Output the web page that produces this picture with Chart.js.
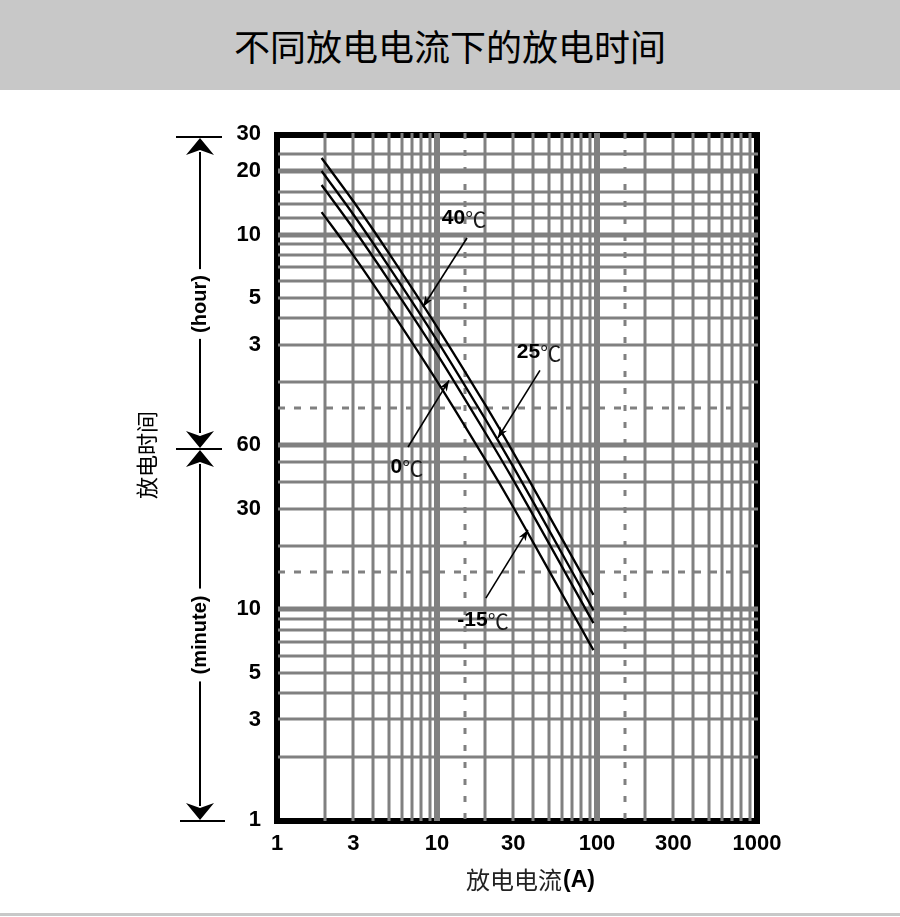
<!DOCTYPE html>
<html><head><meta charset="utf-8">
<script src="https://cdn.jsdelivr.net/npm/chart.js@4.4.1/dist/chart.umd.min.js"></script>
<style>
html,body{margin:0;padding:0;background:#fff;}
#wrap{position:relative;width:900px;height:917px;overflow:hidden;background:#fff;}
#banner{position:absolute;left:0;top:0;width:900px;height:90px;background:#c8c8c8;color:#000;font-family:"Noto Sans CJK SC";font-weight:400;font-size:36px;line-height:90px;text-align:center;letter-spacing:0px;}
#foot{position:absolute;left:0;top:913px;width:900px;height:3px;background:#c8c8c8;}
canvas{position:absolute;left:0;top:0;}
</style></head>
<body><div id="wrap"><canvas id="c" width="900" height="917"></canvas><div id="banner">不同放电电流下的放电时间</div><div id="foot"></div></div>
<script>
// discharge current (A)
const currents = [1.9, 3, 5, 10, 20, 30, 50, 95];
// discharge time (minutes) per temperature
const t40  = [1384, 863, 490, 219, 93.5, 55.4, 27.9, 11.7];
const t25  = [1201, 747, 423, 189, 80, 47.4, 23.8, 9.9];
const t0   = [1031, 641, 364, 163, 69, 41, 20.6, 8.6];
const tm15 = [767, 478, 271, 121, 51.4, 30.5, 15.3, 6.4];
const seriesNames = ['40', '25', '0', '-15'];

const xTickValues = [1, 3, 10, 30, 100, 300, 1000];
const xTickLabels = ['1', '3', '10', '30', '100', '300', '1000'];
const yTickValues = [1, 3, 5, 10, 30, 60, 180, 300, 600, 1200, 1800];
const yTickLabels = ['1', '3', '5', '10', '30', '60', '3', '5', '10', '20', '30'];

const xGridMinor = [2,3,4,5,6,7,8,9,20,30,40,50,60,70,80,90,200,300,400,500,600,700,800,900];
const xGridMajor = [10, 100];
const xGridDashed = [15, 150];
const yGridMinor = [2,3,4,5,6,7,8,9,20,30,40,50,120,180,240,300,360,420,480,540,720,840,960,1440];
const yGridMajor = [10, 60, 600, 1200];
const yGridDashed = [15, 90];

// callouts in data units: label point, leader tail, leader tip
const callouts = [
  {lx: 14.75, ly: 719, fx: 15.4, fy: 578, tx: 8.17, ty: 272},
  {lx: 43.4,  ly: 166, fx: 44.0, fy: 136, tx: 24.0, ty: 65},
  {lx: 6.49,  ly: 47.3, fx: 6.59, fy: 58.9, tx: 11.9, ty: 122},
  {lx: 19.4,  ly: 8.9, fx: 20.2, fy: 11.3, tx: 37.0, ty: 23.8}
];

const GRAY = '#808080';

function arrowHead(ctx, tx, ty, fx, fy, len, hw) {
  const ang = Math.atan2(ty - fy, tx - fx);
  ctx.save();
  ctx.translate(tx, ty); ctx.rotate(ang);
  ctx.beginPath();
  ctx.moveTo(0, 0); ctx.lineTo(-len, -hw); ctx.lineTo(-len * 0.7, 0); ctx.lineTo(-len, hw);
  ctx.closePath(); ctx.fill();
  ctx.restore();
}

const gridPlugin = {
  id: 'gridPlugin',
  beforeDatasetsDraw(chart) {
    const {ctx, chartArea: a, scales: {x, y}} = chart;
    ctx.save();
    ctx.strokeStyle = '#000'; ctx.lineWidth = 6; ctx.setLineDash([]);
    ctx.strokeRect(a.left, a.top + 1, a.right - a.left, a.bottom - a.top);
    ctx.strokeStyle = GRAY;
    const v = (val, w, dash) => {
      const px = Math.round(x.getPixelForValue(val));
      ctx.lineWidth = w; ctx.setLineDash(dash || []);
      ctx.beginPath(); ctx.moveTo(px, a.top - 1); ctx.lineTo(px, a.bottom + 1); ctx.stroke();
    };
    const h = (val, w, dash) => {
      const py = Math.round(y.getPixelForValue(val));
      ctx.lineWidth = w; ctx.setLineDash(dash || []);
      ctx.beginPath(); ctx.moveTo(a.left + 1, py); ctx.lineTo(a.right + 1, py); ctx.stroke();
    };
    yGridDashed.forEach(val => h(val, 3, [7, 9]));
    xGridDashed.forEach(val => v(val, 3, [6, 11]));
    yGridMinor.forEach(val => h(val, 3));
    yGridMajor.forEach(val => h(val, 5));
    xGridMinor.forEach(val => v(val, 3));
    xGridMajor.forEach(val => v(val, 6));
    ctx.restore();
  },
  afterDatasetsDraw(chart) {
    const {ctx, scales: {x, y}} = chart;
    ctx.save();
    ctx.strokeStyle = '#000'; ctx.fillStyle = '#000'; ctx.lineWidth = 1.6;
    callouts.forEach((c, i) => {
      const fx = x.getPixelForValue(c.fx), fy = y.getPixelForValue(c.fy);
      const tx = x.getPixelForValue(c.tx), ty = y.getPixelForValue(c.ty);
      ctx.beginPath(); ctx.moveTo(fx, fy); ctx.lineTo(tx, ty); ctx.stroke();
      arrowHead(ctx, tx, ty, fx, fy, 11, 4);
      const lx = x.getPixelForValue(c.lx), ly = y.getPixelForValue(c.ly);
      const num = seriesNames[i];
      const f1 = 'bold 21px "Liberation Sans", Arial, sans-serif';
      const f2 = '400 21px "Noto Sans CJK SC", sans-serif';
      ctx.font = f1;
      const w1 = ctx.measureText(num).width;
      ctx.font = f2;
      const w2 = ctx.measureText('℃').width;
      const sx = lx - (w1 + w2) / 2;
      ctx.textBaseline = 'middle'; ctx.textAlign = 'left';
      ctx.font = f1; ctx.fillStyle = '#000';
      ctx.fillText(num, sx, ly);
      ctx.font = f2; ctx.fillStyle = '#1a1a1a';
      ctx.fillText('℃', sx + w1, ly + 1);
      ctx.fillStyle = '#000';
    });
    ctx.restore();
  },
  afterDraw(chart) {
    const {ctx} = chart;
    ctx.save();
    ctx.strokeStyle = '#000'; ctx.fillStyle = '#000'; ctx.lineWidth = 2;
    const X = 200;
    [[176, 222, 137], [176, 222, 449], [180, 225, 821]].forEach(b => {
      ctx.beginPath(); ctx.moveTo(b[0], b[2]); ctx.lineTo(b[1], b[2]); ctx.stroke();
    });
    [[152, 433], [464, 806]].forEach(s => {
      ctx.beginPath(); ctx.moveTo(X, s[0]); ctx.lineTo(X, s[1]); ctx.stroke();
    });
    arrowHead(ctx, X, 138, X, 200, 17, 14);
    arrowHead(ctx, X, 448, X, 380, 17, 14);
    arrowHead(ctx, X, 450, X, 520, 17, 14);
    arrowHead(ctx, X, 820, X, 760, 17, 14);
    const rot = (text, cx, cy, font, gap) => {
      ctx.save();
      ctx.translate(cx, cy); ctx.rotate(-Math.PI / 2);
      ctx.font = font;
      const w = ctx.measureText(text).width;
      if (gap) { ctx.fillStyle = '#fff'; ctx.fillRect(-w / 2 - gap, -14, w + 2 * gap, 28); }
      ctx.fillStyle = '#000'; ctx.textAlign = 'center'; ctx.textBaseline = 'middle';
      ctx.fillText(text, 0, 0);
      ctx.restore();
    };
    rot('(hour)', X, 304, 'bold 20px "Liberation Sans", Arial, sans-serif', 6);
    rot('(minute)', X, 635, 'bold 20px "Liberation Sans", Arial, sans-serif', 7);
    rot('放电时间', 147, 455, '22px "Noto Sans CJK SC", sans-serif', 0);
    ctx.textBaseline = 'middle'; ctx.textAlign = 'left';
    ctx.font = '24px "Noto Sans CJK SC", sans-serif';
    const p1 = '放电电流', p2 = '(A)';
    const w1 = ctx.measureText(p1).width;
    ctx.font = 'bold 23px "Liberation Sans", Arial, sans-serif';
    const w2 = ctx.measureText(p2).width;
    const sx = 530 - (w1 + w2) / 2;
    ctx.font = '24px "Noto Sans CJK SC", sans-serif';
    ctx.fillStyle = '#222';
    ctx.fillText(p1, sx, 880);
    ctx.fillStyle = '#000';
    ctx.font = 'bold 23px "Liberation Sans", Arial, sans-serif';
    ctx.fillText(p2, sx + w1 + 1, 881);
    ctx.restore();
  }
};

const datasets = [t40, t25, t0, tm15].map((arr, i) => ({
  label: seriesNames[i],
  data: currents.map((c, j) => ({x: c, y: arr[j]})),
  borderColor: '#000',
  borderWidth: 2.3,
  pointRadius: 0,
  fill: false,
  tension: 0.25
}));

new Chart(document.getElementById('c'), {
  type: 'line',
  data: {datasets},
  options: {
    responsive: false,
    animation: false,
    devicePixelRatio: 1,
    layout: {padding: {left: 217, right: 143, top: 134, bottom: 57}},
    plugins: {legend: {display: false}, tooltip: {enabled: false}, title: {display: false}},
    scales: {
      x: {
        type: 'logarithmic', min: 1, max: 1000,
        afterBuildTicks: s => { s.ticks = xTickValues.map(v => ({value: v})); },
        afterFit: s => { s.height = 40; },
        grid: {display: false, drawTicks: false},
        border: {display: false},
        ticks: {autoSkip: false, maxRotation: 0, padding: 11, color: '#000',
          font: {family: '"Liberation Sans", Arial, sans-serif', size: 22, weight: 'bold'},
          callback: (v, i) => xTickLabels[i]}
      },
      y: {
        type: 'logarithmic', min: 1, max: 1800,
        afterBuildTicks: s => { s.ticks = yTickValues.map(v => ({value: v})); },
        afterFit: s => { s.width = 60; },
        grid: {display: false, drawTicks: false},
        border: {display: false},
        ticks: {autoSkip: false, padding: 16, color: '#000',
          font: {family: '"Liberation Sans", Arial, sans-serif', size: 22, weight: 'bold'},
          callback: (v, i) => yTickLabels[i]}
      }
    }
  },
  plugins: [gridPlugin]
});
</script>
</body></html>
